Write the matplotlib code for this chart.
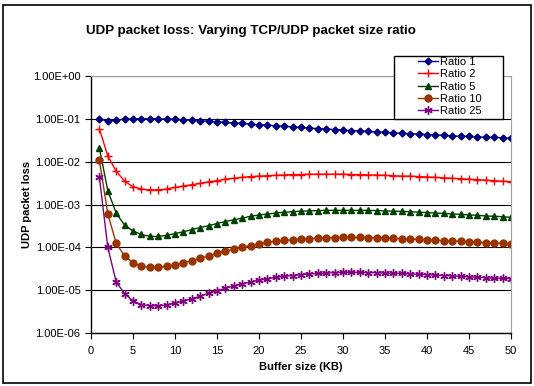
import matplotlib
matplotlib.use("Agg")
import matplotlib.pyplot as plt
from matplotlib.patches import Rectangle

plt.rcParams["font.family"] = ["Liberation Sans", "DejaVu Sans"]

buffer_kb = list(range(1, 51))

ratio_1 = [0.100, 0.088, 0.094, 0.098, 0.100, 0.101, 0.101, 0.100, 0.099, 0.097,
           0.095, 0.093, 0.090, 0.088, 0.085, 0.083, 0.080, 0.078, 0.075, 0.073,
           0.071, 0.069, 0.067, 0.065, 0.063, 0.061, 0.059, 0.058, 0.056, 0.055,
           0.053, 0.052, 0.051, 0.049, 0.048, 0.047, 0.046, 0.045, 0.044, 0.043,
           0.042, 0.041, 0.040, 0.039, 0.039, 0.038, 0.037, 0.037, 0.036, 0.035]

ratio_2 = [0.058, 0.0136, 0.0060, 0.0035, 0.0026, 0.0023, 0.0022, 0.0022, 0.0023, 0.0025,
           0.0027, 0.0029, 0.0031, 0.0034, 0.0036, 0.0039, 0.0041, 0.0043, 0.0045, 0.0046,
           0.0047, 0.0048, 0.0049, 0.0050, 0.0050, 0.0051, 0.0051, 0.0051, 0.0051, 0.0051,
           0.0050, 0.0050, 0.0049, 0.0049, 0.0048, 0.0047, 0.0046, 0.0046, 0.0045, 0.0044,
           0.0043, 0.0042, 0.0041, 0.0040, 0.0039, 0.0038, 0.0037, 0.0036, 0.0035, 0.0034]

ratio_5 = [0.021, 0.0021, 6.3e-4, 3.3e-4, 2.4e-4, 2.0e-4, 1.8e-4, 1.8e-4, 1.9e-4, 2.1e-4,
           2.3e-4, 2.6e-4, 2.9e-4, 3.2e-4, 3.6e-4, 4.0e-4, 4.4e-4, 4.8e-4, 5.3e-4, 5.7e-4,
           6.0e-4, 6.3e-4, 6.6e-4, 6.8e-4, 7.0e-4, 7.1e-4, 7.2e-4, 7.3e-4, 7.3e-4, 7.3e-4,
           7.3e-4, 7.3e-4, 7.3e-4, 7.2e-4, 7.1e-4, 7.0e-4, 6.9e-4, 6.8e-4, 6.6e-4, 6.5e-4,
           6.3e-4, 6.2e-4, 6.0e-4, 5.9e-4, 5.7e-4, 5.6e-4, 5.4e-4, 5.3e-4, 5.2e-4, 5.0e-4]

ratio_10 = [0.0108, 6.1e-4, 1.24e-4, 6.3e-5, 4.4e-5, 3.6e-5, 3.4e-5, 3.4e-5, 3.6e-5, 3.9e-5,
            4.3e-5, 4.9e-5, 5.6e-5, 6.3e-5, 7.2e-5, 8.1e-5, 9.1e-5, 1.0e-4, 1.1e-4, 1.2e-4,
            1.3e-4, 1.4e-4, 1.45e-4, 1.5e-4, 1.55e-4, 1.6e-4, 1.63e-4, 1.66e-4, 1.68e-4, 1.7e-4,
            1.7e-4, 1.7e-4, 1.69e-4, 1.67e-4, 1.65e-4, 1.62e-4, 1.59e-4, 1.56e-4, 1.53e-4, 1.5e-4,
            1.47e-4, 1.44e-4, 1.41e-4, 1.38e-4, 1.35e-4, 1.32e-4, 1.29e-4, 1.26e-4, 1.23e-4, 1.2e-4]

ratio_25 = [4.3e-3, 1.0e-4, 1.55e-5, 8.3e-6, 5.6e-6, 4.6e-6, 4.3e-6, 4.3e-6, 4.5e-6, 5.0e-6,
            5.6e-6, 6.3e-6, 7.2e-6, 8.5e-6, 9.8e-6, 1.1e-5, 1.25e-5, 1.4e-5, 1.55e-5, 1.7e-5,
            1.85e-5, 2.0e-5, 2.1e-5, 2.2e-5, 2.3e-5, 2.4e-5, 2.45e-5, 2.5e-5, 2.55e-5, 2.6e-5,
            2.6e-5, 2.6e-5, 2.55e-5, 2.55e-5, 2.5e-5, 2.5e-5, 2.45e-5, 2.4e-5, 2.35e-5, 2.3e-5,
            2.25e-5, 2.2e-5, 2.15e-5, 2.1e-5, 2.05e-5, 2.0e-5, 1.95e-5, 1.9e-5, 1.88e-5, 1.85e-5]

series_labels = ["Ratio 1", "Ratio 2", "Ratio 5", "Ratio 10", "Ratio 25"]
y_ticks = [1e-6, 1e-5, 1e-4, 1e-3, 1e-2, 1e-1, 1e0]
y_tick_labels = ["1.00E-06", "1.00E-05", "1.00E-04", "1.00E-03", "1.00E-02", "1.00E-01", "1.00E+00"]
x_ticks = [0, 5, 10, 15, 20, 25, 30, 35, 40, 45, 50]

fig = plt.figure(figsize=(5.34, 3.86), dpi=100)
ax = fig.add_axes([0.1704, 0.1373, 0.7865, 0.6658])

# outer chart frame like the spreadsheet chart area
fig.patches.append(Rectangle((0.006, 0.008), 0.988, 0.978, transform=fig.transFigure,
                             fill=False, edgecolor="black", linewidth=1.2))

styles = [
    dict(color="#000080", marker="D", markersize=3.5),
    dict(color="#ff0000", marker="+", markersize=6, markeredgewidth=1.0),
    dict(color="#004000", marker="^", markersize=5),
    dict(color="#993300", marker="o", markersize=5),
    dict(color="#800080", marker=(6, 2, 0), markersize=6, markeredgewidth=1.0),
]
all_series = [ratio_1, ratio_2, ratio_5, ratio_10, ratio_25]
for vals, lab, st in zip(all_series, series_labels, styles):
    ax.plot(buffer_kb, vals, linewidth=1.0, label=lab, **st)

ax.set_yscale("log")
ax.set_xlim(0, 50)
ax.set_ylim(1e-6, 1e0)
ax.set_yticks(y_ticks)
ax.set_yticklabels(y_tick_labels)
ax.minorticks_off()
ax.set_xticks(x_ticks)
ax.tick_params(labelsize=8, length=4, direction="out")
ax.tick_params(axis="x", pad=5)
ax.yaxis.grid(True, color="black", linewidth=0.8)
ax.set_axisbelow(True)

for side in ["top", "right"]:
    ax.spines[side].set_color("#a0a0a0")
for side in ["left", "bottom"]:
    ax.spines[side].set_linewidth(1.0)

ax.set_xlabel("Buffer size (KB)", fontsize=8, fontweight="bold", labelpad=5)
ax.set_ylabel("UDP packet loss", fontsize=8, fontweight="bold", labelpad=1)
fig.text(0.470, 0.920, "UDP packet loss: Varying TCP/UDP packet size ratio",
         ha="center", va="center", fontsize=9.6, fontweight="bold")

# legend box drawn separately (wide padding like the original)
fig.patches.append(Rectangle((0.7378, 0.693), 0.2041, 0.1632, transform=fig.transFigure,
                             facecolor="white", edgecolor="black", linewidth=1.0, zorder=3))
handles, labels = ax.get_legend_handles_labels()
leg = fig.legend(handles, labels, loc="upper left", bbox_to_anchor=(0.7828, 0.852),
                 fontsize=8, frameon=False, handlelength=1.8, handletextpad=0.2,
                 labelspacing=0.2, borderpad=0, borderaxespad=0)
leg.set_zorder(5)

fig.savefig("out.png", dpi=100)
